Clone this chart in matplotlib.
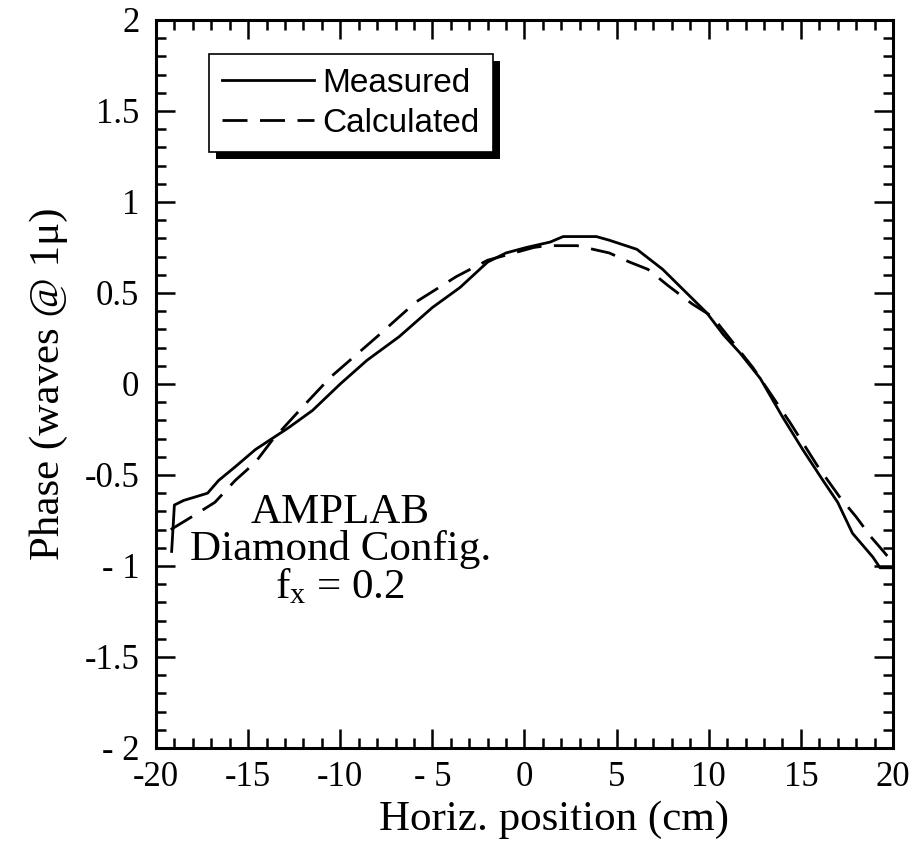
import numpy as np
import matplotlib.pyplot as plt
import matplotlib.patheffects as pe
from matplotlib.ticker import MultipleLocator, FixedLocator, FixedFormatter

# values
meas_x = [-19.15, -19.0, -18.5, -17.2, -16.6, -15.7, -14.6, -12.8, -11.5, -10.0,
          -8.55, -6.8, -5.0, -3.5, -2.0, -1.0, 0.1, 1.4, 2.1, 3.9,
          4.6, 6.1, 7.5, 8.8, 9.9, 10.8, 11.7, 12.8, 14.0, 15.1,
          16.2, 17.0, 17.8, 18.9, 19.3, 20.0]
meas_y = [-0.92, -0.665, -0.64, -0.60, -0.53, -0.455, -0.36, -0.24, -0.145, 0.0,
          0.13, 0.26, 0.42, 0.53, 0.67, 0.72, 0.75, 0.78, 0.81, 0.81,
          0.79, 0.74, 0.63, 0.50, 0.39, 0.27, 0.17, 0.03, -0.18, -0.36,
          -0.53, -0.65, -0.82, -0.95, -1.01, -1.01]

calc_x = [-19.2, -17.9, -16.8, -15.7, -14.6, -13.7, -12.8, -11.8, -10.5, -8.0,
          -5.9, -3.7, -2.0, 0.5, 1.2, 2.85, 4.6, 5.7, 6.7, 7.8,
          9.1, 10.2, 11.3, 12.4, 14.4, 15.9, 17.1, 18.0, 18.8, 19.4, 19.9]
calc_y = [-0.80, -0.72, -0.65, -0.53, -0.43, -0.31, -0.21, -0.10, 0.04, 0.26,
          0.45, 0.59, 0.68, 0.75, 0.76, 0.76, 0.72, 0.67, 0.63, 0.54,
          0.44, 0.37, 0.23, 0.09, -0.21, -0.45, -0.62, -0.73, -0.84, -0.91, -0.97]

xticks = [-20, -15, -10, -5, 0, 5, 10, 15, 20]
xtick_labels = ['-20', '-15', '-10', '- 5', '0', '5', '10', '15', '20']
yticks = [-2, -1.5, -1, -0.5, 0, 0.5, 1, 1.5, 2]
ytick_labels = ['- 2', '-1.5', '- 1', '-0.5', '0', '0.5', '1', '1.5', '2']

serif = 'Liberation Serif'
sans = 'Liberation Sans'

fig = plt.figure(figsize=(9.1, 8.5), dpi=100)
ax = fig.add_axes([0.1714, 0.12, 0.8099, 0.8565])

ax.plot(meas_x, meas_y, color='black', lw=2.0, label='Measured')
ax.plot(calc_x, calc_y, color='black', lw=2.0, linestyle=(0, (9, 4.5)), label='Calculated')

ax.set_xlim(-20, 20)
ax.set_ylim(-2, 2)

ax.xaxis.set_major_locator(FixedLocator(xticks))
ax.xaxis.set_major_formatter(FixedFormatter(xtick_labels))
ax.yaxis.set_major_locator(FixedLocator(yticks))
ax.yaxis.set_major_formatter(FixedFormatter(ytick_labels))
ax.xaxis.set_minor_locator(MultipleLocator(1))
ax.yaxis.set_minor_locator(MultipleLocator(0.1))

ax.tick_params(which='both', direction='in', top=True, right=True, width=1.8, color='black')
ax.tick_params(which='major', length=14, pad=9)
ax.tick_params(which='minor', length=7)
for lab in ax.get_xticklabels() + ax.get_yticklabels():
    lab.set_fontfamily(serif)
    lab.set_fontsize(25)
ax.tick_params(axis='y', pad=12)

for s in ax.spines.values():
    s.set_linewidth(2.2)

ax.set_xlabel('Horiz. position (cm)', fontfamily=serif, fontsize=31, labelpad=2)
ax.xaxis.set_label_coords(0.54, -0.072)
ax.set_ylabel('Phase (waves @ 1\u03bc)', fontfamily=serif, fontsize=31, labelpad=12)

ax.text(-10.0, -0.6, 'AMPLAB\nDiamond Config.\n$\\mathregular{f_x}$ = 0.2',
        ha='center', va='top', fontfamily=serif, fontsize=31, linespacing=0.95)

leg = ax.legend(loc='upper left', bbox_to_anchor=(0.072, 0.953), prop={'family': sans, 'size': 24},
                frameon=True, fancybox=False, edgecolor='black', handlelength=2.75,
                handletextpad=0.25, borderpad=0.4, labelspacing=0.28, borderaxespad=0)
frame = leg.get_frame()
frame.set_linewidth(1.2)
frame.set_alpha(1)
frame.set_path_effects([pe.SimplePatchShadow(offset=(5, -5), shadow_rgbFace='black', alpha=1),
                        pe.Normal()])

fig.savefig('out.png', dpi=100)
